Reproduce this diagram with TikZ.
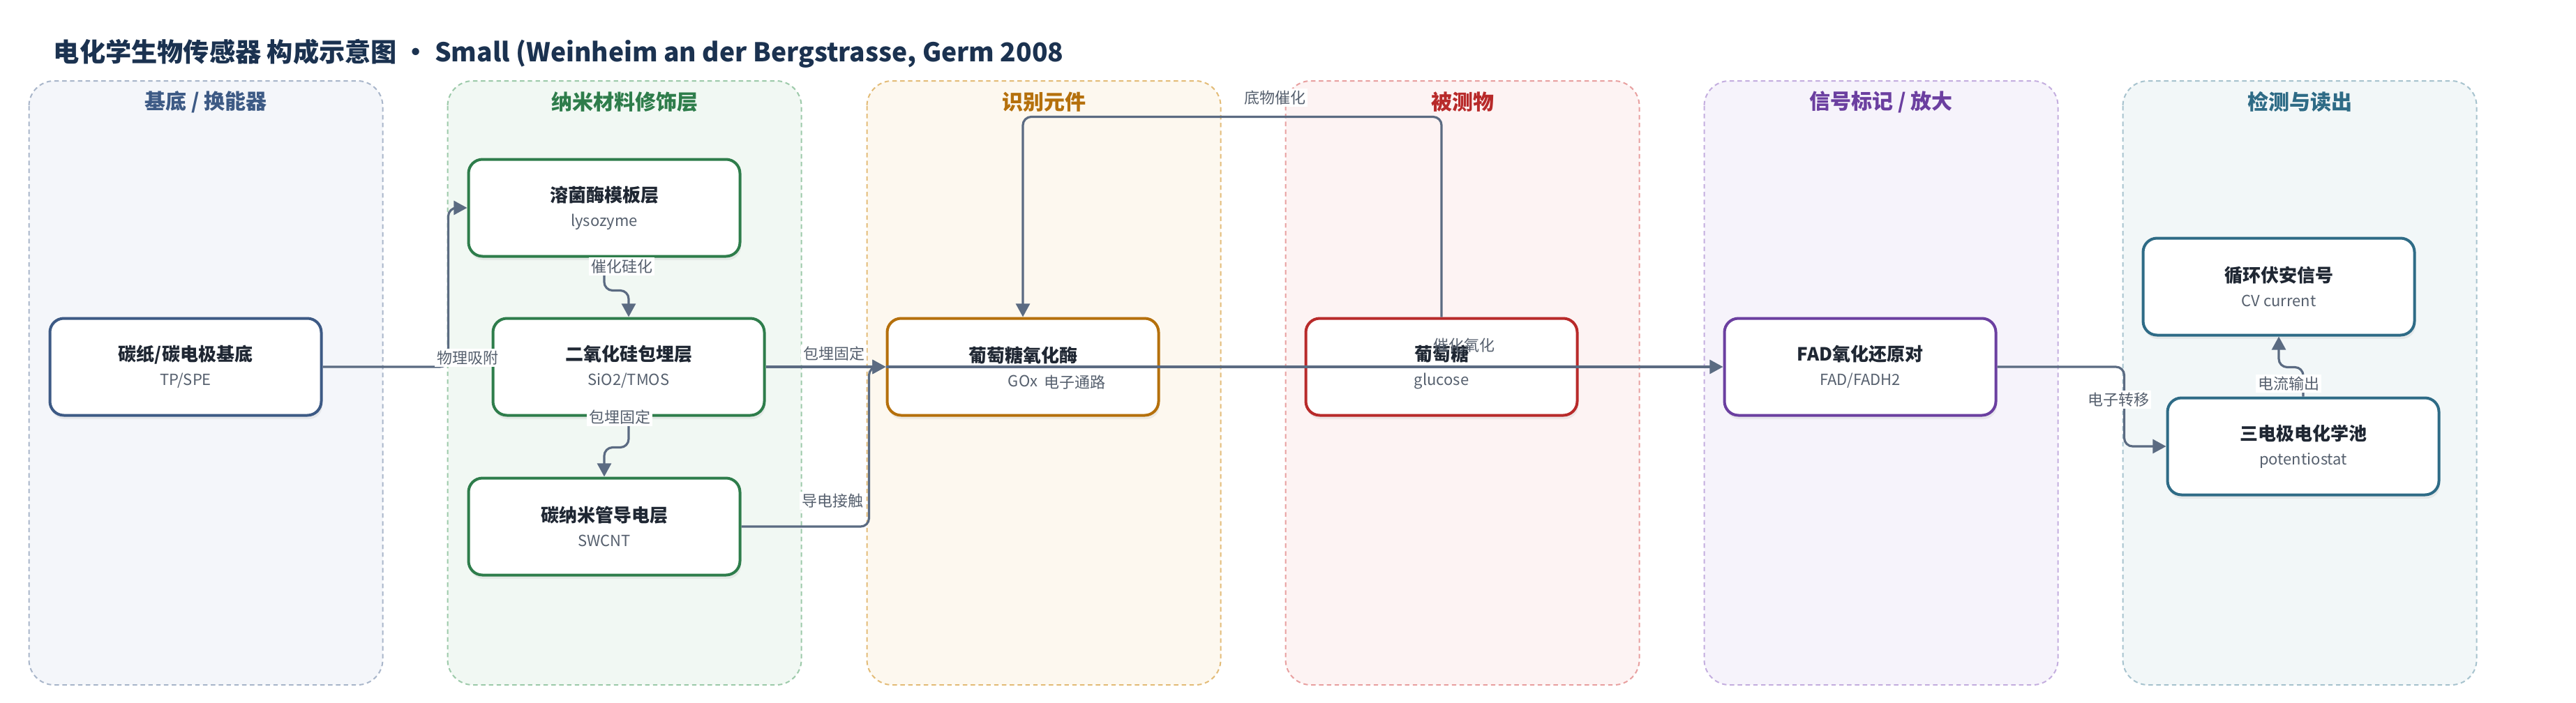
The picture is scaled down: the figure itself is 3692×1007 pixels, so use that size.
\documentclass[tikz,border=0pt]{standalone}
\usepackage{fontspec}
\setmainfont{Noto Sans CJK SC}
\usetikzlibrary{arrows.meta,shadows}

\definecolor{headnavy}{HTML}{1B3250}
\definecolor{flowgray}{HTML}{5B6B82}
\definecolor{textdark}{HTML}{1F2733}
\definecolor{textsub}{HTML}{56606E}
% lane colours: C = line/text, F = fill, B = dashed border
\definecolor{baseC}{HTML}{3D5A85}\definecolor{baseF}{HTML}{F4F6FA}\definecolor{baseB}{HTML}{A9B6CA}
\definecolor{nanoC}{HTML}{2E7D4B}\definecolor{nanoF}{HTML}{F1F8F3}\definecolor{nanoB}{HTML}{9DCAAA}
\definecolor{recoC}{HTML}{B5700C}\definecolor{recoF}{HTML}{FDF8EF}\definecolor{recoB}{HTML}{E3BC78}
\definecolor{anaC}{HTML}{B82A2A}\definecolor{anaF}{HTML}{FDF3F3}\definecolor{anaB}{HTML}{E8A0A0}
\definecolor{sigC}{HTML}{6B3FA0}\definecolor{sigF}{HTML}{F6F3FB}\definecolor{sigB}{HTML}{C4AEDF}
\definecolor{detC}{HTML}{2E6B86}\definecolor{detF}{HTML}{F2F7F8}\definecolor{detB}{HTML}{A7C3CE}

\newcommand{\subline}[1]{{\fontsize{5.5}{6.6}\selectfont\mdseries\color{textsub}#1}}

\begin{document}
\begin{tikzpicture}[x=0.25pt,y=-0.25pt,
    lane/.style={rounded corners=9pt,dash pattern=on 1.6pt off 1.2pt,line width=0.5pt},
    lanehead/.style={font=\fontsize{7.5}{8.5}\selectfont\bfseries},
    box/.style={draw,fill=white,rounded corners=5pt,line width=1pt,
        minimum width=97.25pt,minimum height=34.75pt,align=center,text=textdark,
        font=\fontsize{6.5}{8.75}\selectfont\bfseries,
        drop shadow={shadow xshift=0.4pt,shadow yshift=-1.4pt,opacity=0.12}},
    flow/.style={draw=flowgray,line width=0.8pt,rounded corners=3pt,
        -{Triangle[length=4.8pt,width=5pt]}},
    tag/.style={fill=white,inner sep=0.8pt,text=textsub,font=\fontsize{5.5}{6.6}\selectfont}
]
\useasboundingbox (0,0) rectangle (3692,1007);

% === Title ===
\node[anchor=west,inner sep=0pt,text=headnavy,font=\fontsize{9.3}{11}\selectfont\bfseries] (title) at (76,77)
    {电化学生物传感器 构成示意图 · Small (Weinheim an der Bergstrasse, Germ 2008};

% === Lanes ===
\foreach \cx/\nm/\kind in {295/{基底 / 换能器}/base, 895/纳米材料修饰层/nano, 1496/识别元件/reco,
        2096/被测物/ana, 2696/{信号标记 / 放大}/sig, 3296/检测与读出/det} {
    \draw[lane,draw=\kind B,fill=\kind F] (\cx-253.5,116) rectangle (\cx+253.5,982);
    \node[lanehead,text=\kind C] at (\cx,146) {\nm};
}

% === Nodes ===
\node[box,draw=baseC] (tp) at (266,526) {碳纸/碳电极基底\\\subline{TP/SPE}};
\node[box,draw=nanoC] (lyso) at (866,298) {溶菌酶模板层\\\subline{lysozyme}};
\node[box,draw=nanoC] (sio) at (901,526) {二氧化硅包埋层\\\subline{SiO2/TMOS}};
\node[box,draw=nanoC] (swcnt) at (866,755) {碳纳米管导电层\\\subline{SWCNT}};
\node[box,draw=recoC] (gox) at (1466,526) {葡萄糖氧化酶\\\subline{GOx}};
\node[box,draw=anaC] (glu) at (2066,526) {葡萄糖\\\subline{glucose}};
\node[box,draw=sigC] (fad) at (2666,526) {FAD氧化还原对\\\subline{FAD/FADH2}};
\node[box,draw=detC] (cv) at (3266,411) {循环伏安信号\\\subline{CV current}};
\node[box,draw=detC] (pot) at (3301,640) {三电极电化学池\\\subline{potentiostat}};

% === Connectors ===
\draw[flow] (tp.east) -- ++(180,0) |- (lyso.west);
\draw[flow] (lyso.south) -- ++(0,47) -| (sio.north);
\draw[flow] (sio.south) -- ++(0,44) -| (swcnt.north);
\draw[flow] (sio.east) -- (gox.west);
\draw[flow] (swcnt.east) -- ++(183,0) |- (gox.west);
\draw[flow] (glu.north) -- ++(0,-287) -| (gox.north);
\draw[flow] (gox.west) -- (fad.west);
\draw[flow] (fad.east) -- ++(182,0) |- (pot.west);
\draw[flow] (pot.north) -- ++(0,-42) -| (cv.south);

% === Connector labels ===
\node[tag] (adsorb) at (670,513) {物理吸附};
\node[tag] (silic) at (891,382) {催化硅化};
\node[tag] (embed1) at (888,598) {包埋固定};
\node[tag] (embed2) at (1195,507) {包埋固定};
\node[tag] (contact) at (1193,718) {导电接触};
\node[tag] (substr) at (1827,140) {底物催化};
\node[tag] (epath) at (1540,548) {电子通路};
\node[tag,fill=none] (oxid) at (2098,495) {催化氧化};
\node[tag] (etrans) at (3036,573) {电子转移};
\node[tag] (curout) at (3280,550) {电流输出};

\end{tikzpicture}
\end{document}
